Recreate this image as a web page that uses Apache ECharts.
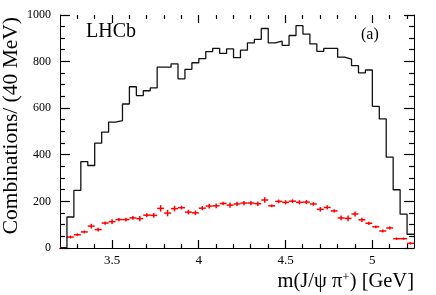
<!DOCTYPE html>
<html>
<head>
<meta charset="utf-8">
<script src="https://cdn.jsdelivr.net/npm/echarts@6/dist/echarts.min.js"></script>
<style>
  html, body { margin: 0; padding: 0; background: #fff; }
  #chart { width: 436px; height: 295px; }
</style>
</head>
<body>
<div id="chart"></div>
<script>
// ---- data ----
const binLow = [3.20,3.24,3.28,3.32,3.36,3.40,3.44,3.48,3.52,3.56,3.60,3.64,3.68,3.72,3.76,3.80,3.84,3.88,3.92,3.96,
                4.00,4.04,4.08,4.12,4.16,4.20,4.24,4.28,4.32,4.36,4.40,4.44,4.48,4.52,4.56,4.60,4.64,4.68,4.72,4.76,
                4.80,4.84,4.88,4.92,4.96,5.00,5.04,5.08,5.12,5.16,5.20];
const binWidth = 0.04;
const xMin = 3.20, xMax = 5.24;
const histCounts = [0,133,247,371,354,450,497,540,547,618,692,654,675,687,776,776,790,726,767,795,
                    813,843,857,835,855,817,849,880,895,942,880,888,870,912,954,918,876,844,857,857,
                    819,811,783,752,764,608,554,390,250,145,59];
const redCounts = [1,47,57,69,94,79,107,113,122,122,129,126,141,140,170,150,169,173,154,151,
                   171,180,181,191,184,189,193,193,190,206,181,200,196,201,196,197,189,166,174,159,
                   129,127,146,121,106,91,73,86,40,40,20];
const redErr = [3,6,6,6,10,8,7,10,7,8,8,11,8,10,14,14,12,8,10,10,
                9,10,10,7,11,9,9,9,10,12,6,8,9,8,9,9,8,10,9,7,
                10,12,11,9,7,6,6,7,5,5,5];
const xMajorTicks = [3.5, 4, 4.5, 5];
const xMinorTicks = [3.3,3.4,3.6,3.7,3.8,3.9,4.1,4.2,4.3,4.4,4.6,4.7,4.8,4.9,5.1,5.2];
const yMajorTicks = [0, 200, 400, 600, 800, 1000];
const yMinorTicks = [50,100,150,250,300,350,450,500,550,650,700,750,850,900,950];
const yMin = 0, yMax = 1000, yStep = 200;

// ---- build series data ----
const histLine = binLow.map((x, i) => [x, histCounts[i]]);
histLine.push([xMax, histCounts[histCounts.length - 1]]);
const redData = binLow.map((x, i) => [x + binWidth / 2, redCounts[i], redErr[i]]);
// tick table: [x, y, kind]  kind 0 = x major, 1 = x minor, 2 = y major, 3 = y minor
const tickData = []
  .concat(xMajorTicks.map(v => [v, yMin, 0]))
  .concat(xMinorTicks.map(v => [v, yMin, 1]))
  .concat(yMajorTicks.map(v => [xMin, v, 2]))
  .concat(yMinorTicks.map(v => [xMin, v, 3]));
const tickLen = [8, 4, 10, 5];

const FONT = 'Liberation Serif';
const chart = echarts.init(document.getElementById('chart'));

function xAxisDef(pos, labels) {
  return {
    type: 'value', min: xMin, max: xMax, position: pos,
    axisLine: { show: true, lineStyle: { color: '#000', width: 1 } },
    axisTick: { show: false },
    axisLabel: { show: labels, customValues: xMajorTicks, color: '#000', fontFamily: FONT, fontSize: 13, margin: 6,
                 formatter: v => String(v) },
    splitLine: { show: false }
  };
}
function yAxisDef(pos, labels) {
  return {
    type: 'value', min: yMin, max: yMax, interval: yStep, position: pos,
    axisLine: { show: true, lineStyle: { color: '#000', width: 1 } },
    axisTick: { show: false },
    axisLabel: { show: labels, color: '#000', fontFamily: FONT, fontSize: 12, margin: 9, formatter: v => String(v) },
    splitLine: { show: false }
  };
}
const snap = p => Math.round(p - 0.5) + 0.5;

const option = {
  animation: false,
  backgroundColor: '#fff',
  grid: { left: 60, right: 22, top: 15, bottom: 47 },
  xAxis: [ xAxisDef('bottom', true), xAxisDef('top', false) ],
  yAxis: [ yAxisDef('left', true), yAxisDef('right', false) ],
  series: [
    {
      type: 'line', step: 'end', data: histLine, xAxisIndex: 0, yAxisIndex: 0,
      showSymbol: false, symbol: 'none',
      lineStyle: { color: '#111', width: 1.3 }
    },
    {
      // axis tick marks on all four sides (inside the frame)
      type: 'custom', data: tickData, xAxisIndex: 0, yAxisIndex: 0, clip: false, z: 10,
      encode: { x: 0, y: 1 },
      renderItem: function (params, api) {
        const v0 = api.value(0), v1 = api.value(1), kind = api.value(2);
        const len = tickLen[kind];
        const st = { stroke: '#000', lineWidth: 1.2 };
        const lo = api.coord([xMin, yMin]), hi = api.coord([xMax, yMax]);
        if (kind < 2) {
          const px = snap(api.coord([v0, yMin])[0]);
          return { type: 'group', children: [
            { type: 'line', shape: { x1: px, y1: lo[1], x2: px, y2: lo[1] - len }, style: st },
            { type: 'line', shape: { x1: px, y1: hi[1], x2: px, y2: hi[1] + len }, style: st }
          ]};
        }
        const py = snap(api.coord([xMin, v1])[1]);
        return { type: 'group', children: [
          { type: 'line', shape: { x1: lo[0], y1: py, x2: lo[0] + len, y2: py }, style: st },
          { type: 'line', shape: { x1: hi[0], y1: py, x2: hi[0] - len, y2: py }, style: st }
        ]};
      }
    },
    {
      type: 'custom', data: redData, xAxisIndex: 0, yAxisIndex: 0, clip: false,
      encode: { x: 0, y: 1 },
      renderItem: function (params, api) {
        const x = api.value(0), y = api.value(1), e = api.value(2);
        const l = api.coord([x - binWidth / 2, y]);
        const r = api.coord([x + binWidth / 2, y]);
        const t = api.coord([x, y + e]);
        const b = api.coord([x, y - e]);
        const st = { stroke: '#ff0000', lineWidth: 1.5 };
        return { type: 'group', children: [
          { type: 'line', shape: { x1: l[0], y1: l[1], x2: r[0], y2: r[1] }, style: st },
          { type: 'line', shape: { x1: t[0], y1: t[1], x2: b[0], y2: b[1] }, style: st }
        ]};
      }
    }
  ],
  graphic: [
    { type: 'text', left: 86, top: 22, style: { text: 'LHCb', font: '20px "Liberation Serif"', fill: '#000' } },
    { type: 'text', left: 361, top: 27, style: { text: '(a)', font: '16px "Liberation Serif"', fill: '#000' } },
    { type: 'text', x: 11, y: 17, rotation: Math.PI / 2,
      style: { text: 'Combinations/ (40 MeV)', font: '21.5px "Liberation Serif"', fill: '#000', align: 'right', verticalAlign: 'middle' } },
    { type: 'text', x: 414, y: 282,
      style: { text: 'm(J/ψ π{s|+}) [GeV]', font: '20.5px "Liberation Serif"', fill: '#000', align: 'right', verticalAlign: 'middle',
               rich: { s: { fontSize: 13, fontFamily: FONT, verticalAlign: 'bottom', padding: [0, 0, 8, 0] } } } }
  ]
};
chart.setOption(option);
</script>
</body>
</html>
